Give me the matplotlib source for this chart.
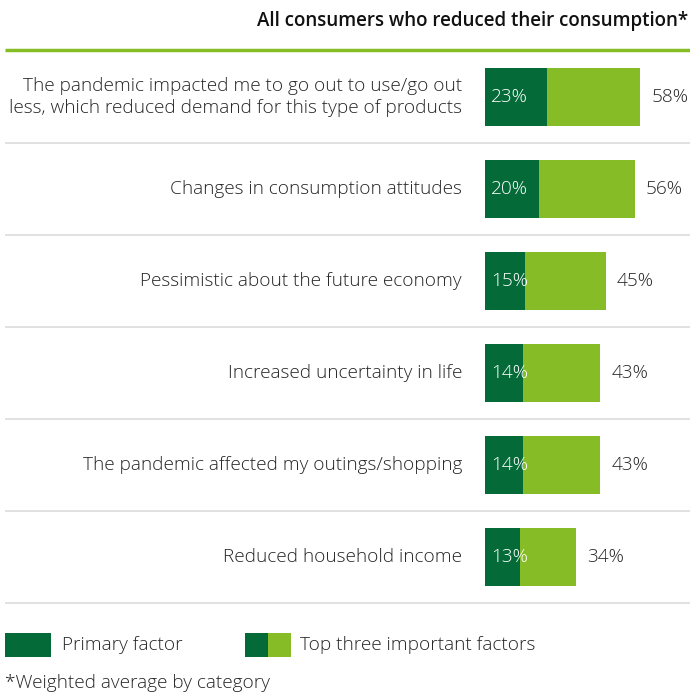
import matplotlib
matplotlib.use("Agg")
import matplotlib.pyplot as plt
from matplotlib.transforms import blended_transform_factory
from matplotlib.patches import Rectangle

categories = [
    "The pandemic impacted me to go out to use/go out\nless, which reduced demand for this type of products",
    "Changes in consumption attitudes",
    "Pessimistic about the future economy",
    "Increased uncertainty in life",
    "The pandemic affected my outings/shopping",
    "Reduced household income",
]
primary = [23, 20, 15, 14, 14, 13]
top_three = [58, 56, 45, 43, 43, 34]
title = "All consumers who reduced their consumption*"
legend_labels = ["Primary factor", "Top three important factors"]
footnote = "*Weighted average by category"

DARK = "#046A38"
LIGHT = "#86BC25"
TXT = "#262626"
FONT = ["Open Sans", "DejaVu Sans"]
plt.rcParams["font.family"] = FONT
FS = 13.7

W, H = 690, 695
fig = plt.figure(figsize=(W / 100, H / 100), dpi=100)

# data axes: x0 at px 485, 2.68 px per %
px_per = 2.68
ax_left, ax_w = 485, 200
ax_top, ax_bot = 51, 603
ax = fig.add_axes([ax_left / W, 1 - ax_bot / H, ax_w / W, (ax_bot - ax_top) / H])
ax.set_xlim(0, ax_w / px_per)
n = len(categories)
ax.set_ylim(n - 0.5, -0.5)
ax.axis("off")

ys = list(range(n))
ax.barh(ys, top_three, height=0.62, color=LIGHT, edgecolor="none")
ax.barh(ys, primary, height=0.62, color=DARK, edgecolor="none")

for i in ys:
    ax.annotate(categories[i], (0, i), xytext=(-23, 0), textcoords="offset pixels",
                ha="right", va="center", fontsize=FS, color=TXT,
                fontweight="light", linespacing=1.3, annotation_clip=False)
    ax.annotate(f"{primary[i]}%", (0, i), xytext=(6, 0), textcoords="offset pixels",
                ha="left", va="center", fontsize=FS, color="white",
                fontweight="light", annotation_clip=False)
    ax.annotate(f"{top_three[i]}%", (top_three[i], i), xytext=(11, 0), textcoords="offset pixels",
                ha="left", va="center", fontsize=FS, color=TXT,
                fontweight="light", annotation_clip=False)

tr = blended_transform_factory(fig.transFigure, ax.transData)
for i in range(n):
    ax.plot([5 / W, 1], [i + 0.5, i + 0.5], transform=tr, color="#dcdcdc",
            lw=1.2, clip_on=False, solid_capstyle="butt")

# top green rule
fig.add_artist(plt.Line2D([5 / W, 1], [1 - 50 / H, 1 - 50 / H], color=LIGHT, lw=2.5,
                          transform=fig.transFigure, solid_capstyle="butt"))

fig.text(688 / W, 1 - 21 / H, title, ha="right", va="center", fontsize=13.5,
         fontweight="semibold", color="#111111")

# legend
def rect(x0, y0, w, h, c):
    fig.add_artist(Rectangle((x0 / W, 1 - (y0 + h) / H), w / W, h / H, color=c,
                             transform=fig.transFigure, lw=0))

rect(5, 633, 46, 24, DARK)
fig.text(62 / W, 1 - 645 / H, legend_labels[0], ha="left", va="center",
         fontsize=FS, fontweight="light", color=TXT)
rect(245, 633, 23, 24, DARK)
rect(268, 633, 23, 24, LIGHT)
fig.text(300 / W, 1 - 645 / H, legend_labels[1], ha="left", va="center",
         fontsize=FS, fontweight="light", color=TXT)
fig.text(5 / W, 1 - 683 / H, footnote, ha="left", va="center",
         fontsize=FS, fontweight="light", color=TXT)

fig.savefig("out.png", dpi=100)
